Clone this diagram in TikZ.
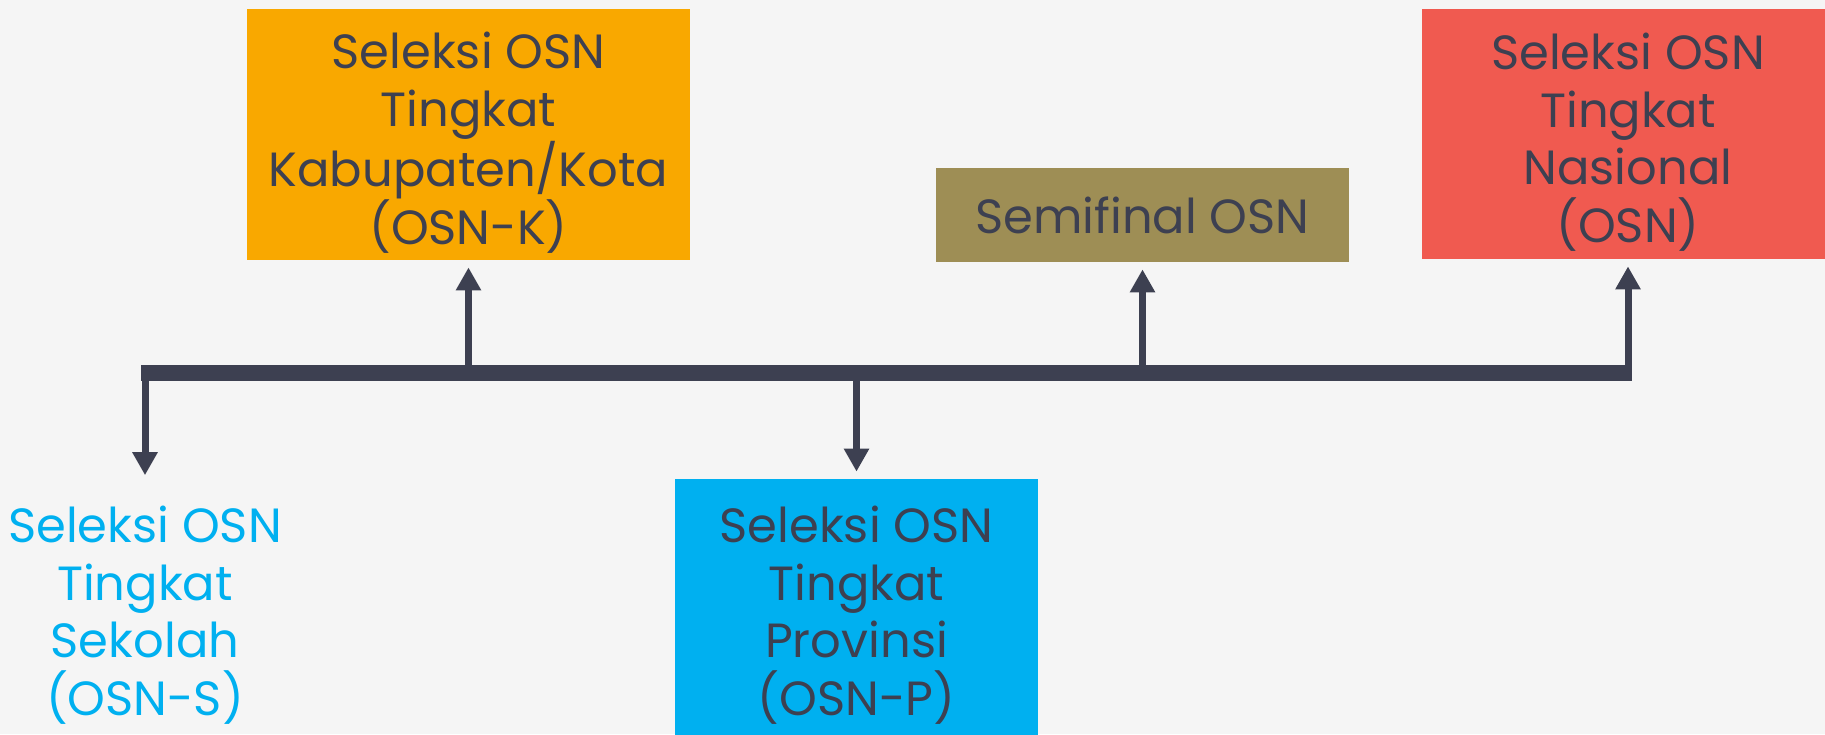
\documentclass[tikz,border=0pt]{standalone}
\usepackage{fontspec}
\setmainfont{Poppins}
\usetikzlibrary{arrows.meta}
\definecolor{latar}{HTML}{F5F5F5}
\definecolor{tinta}{HTML}{3D4051}
\definecolor{jingga}{HTML}{F9A800}
\definecolor{zaitun}{HTML}{9E8E55}
\definecolor{merah}{HTML}{F05A50}
\definecolor{biru}{HTML}{00B0F0}
\newcommand\atas{\rule{0pt}{22pt}}%baris pertama sedikit lebih tinggi
\tikzset{
  kotak/.style={inner sep=0pt,align=center,text=tinta,font=\fontsize{24}{28.8}\selectfont},
  empat/.style={kotak,text depth=0pt},
  panah/.style={-{Triangle[width=12pt,length=11.5pt]},line width=3.5pt,draw=tinta,shorten >=3.5pt},
}
\begin{document}
\begin{tikzpicture}[x=0.5pt,y=-0.5pt]
\fill[latar](0,0)rectangle(1825,734);%latar
\useasboundingbox(0,0)rectangle(1825,734);
\node[empat,fill=jingga,minimum width=221.5pt,minimum height=125.5pt](osnk)at(468.5,134.5){\atas Seleksi OSN\\Tingkat\\Kabupaten/Kota\\(OSN-K)};%kabupaten
\node[kotak,fill=zaitun,minimum width=206.5pt,minimum height=47pt](semi)at(1142.5,215){Semifinal OSN};%semifinal
\node[empat,fill=merah,minimum width=206pt,minimum height=125pt](osnn)at(1628,134){\atas Seleksi OSN\\Tingkat\\Nasional\\(OSN)};%nasional
\node[empat,fill=biru,minimum width=181.5pt,minimum height=128pt](osnp)at(856.5,607){\atas Seleksi OSN\\Tingkat\\Provinsi\\(OSN-P)};%provinsi
\node[empat,text=biru](osns)at(145,607){\atas Seleksi OSN\\Tingkat\\Sekolah\\(OSN-S)};%sekolah
\coordinate(barL)at(141,373);
\coordinate(barR)at(1632,373);
\draw[line width=8pt,tinta](barL)--(barR);%garis waktu
\draw[panah](osnk|-barL)--(osnk);
\draw[panah](semi|-barL)--(semi);
\draw[panah](osnn|-barL)--(osnn);
\draw[panah](osnp|-barL)--(osnp);
\draw[panah,shorten >=11.5pt](osns|-barL)--(osns);
\end{tikzpicture}
\end{document}
